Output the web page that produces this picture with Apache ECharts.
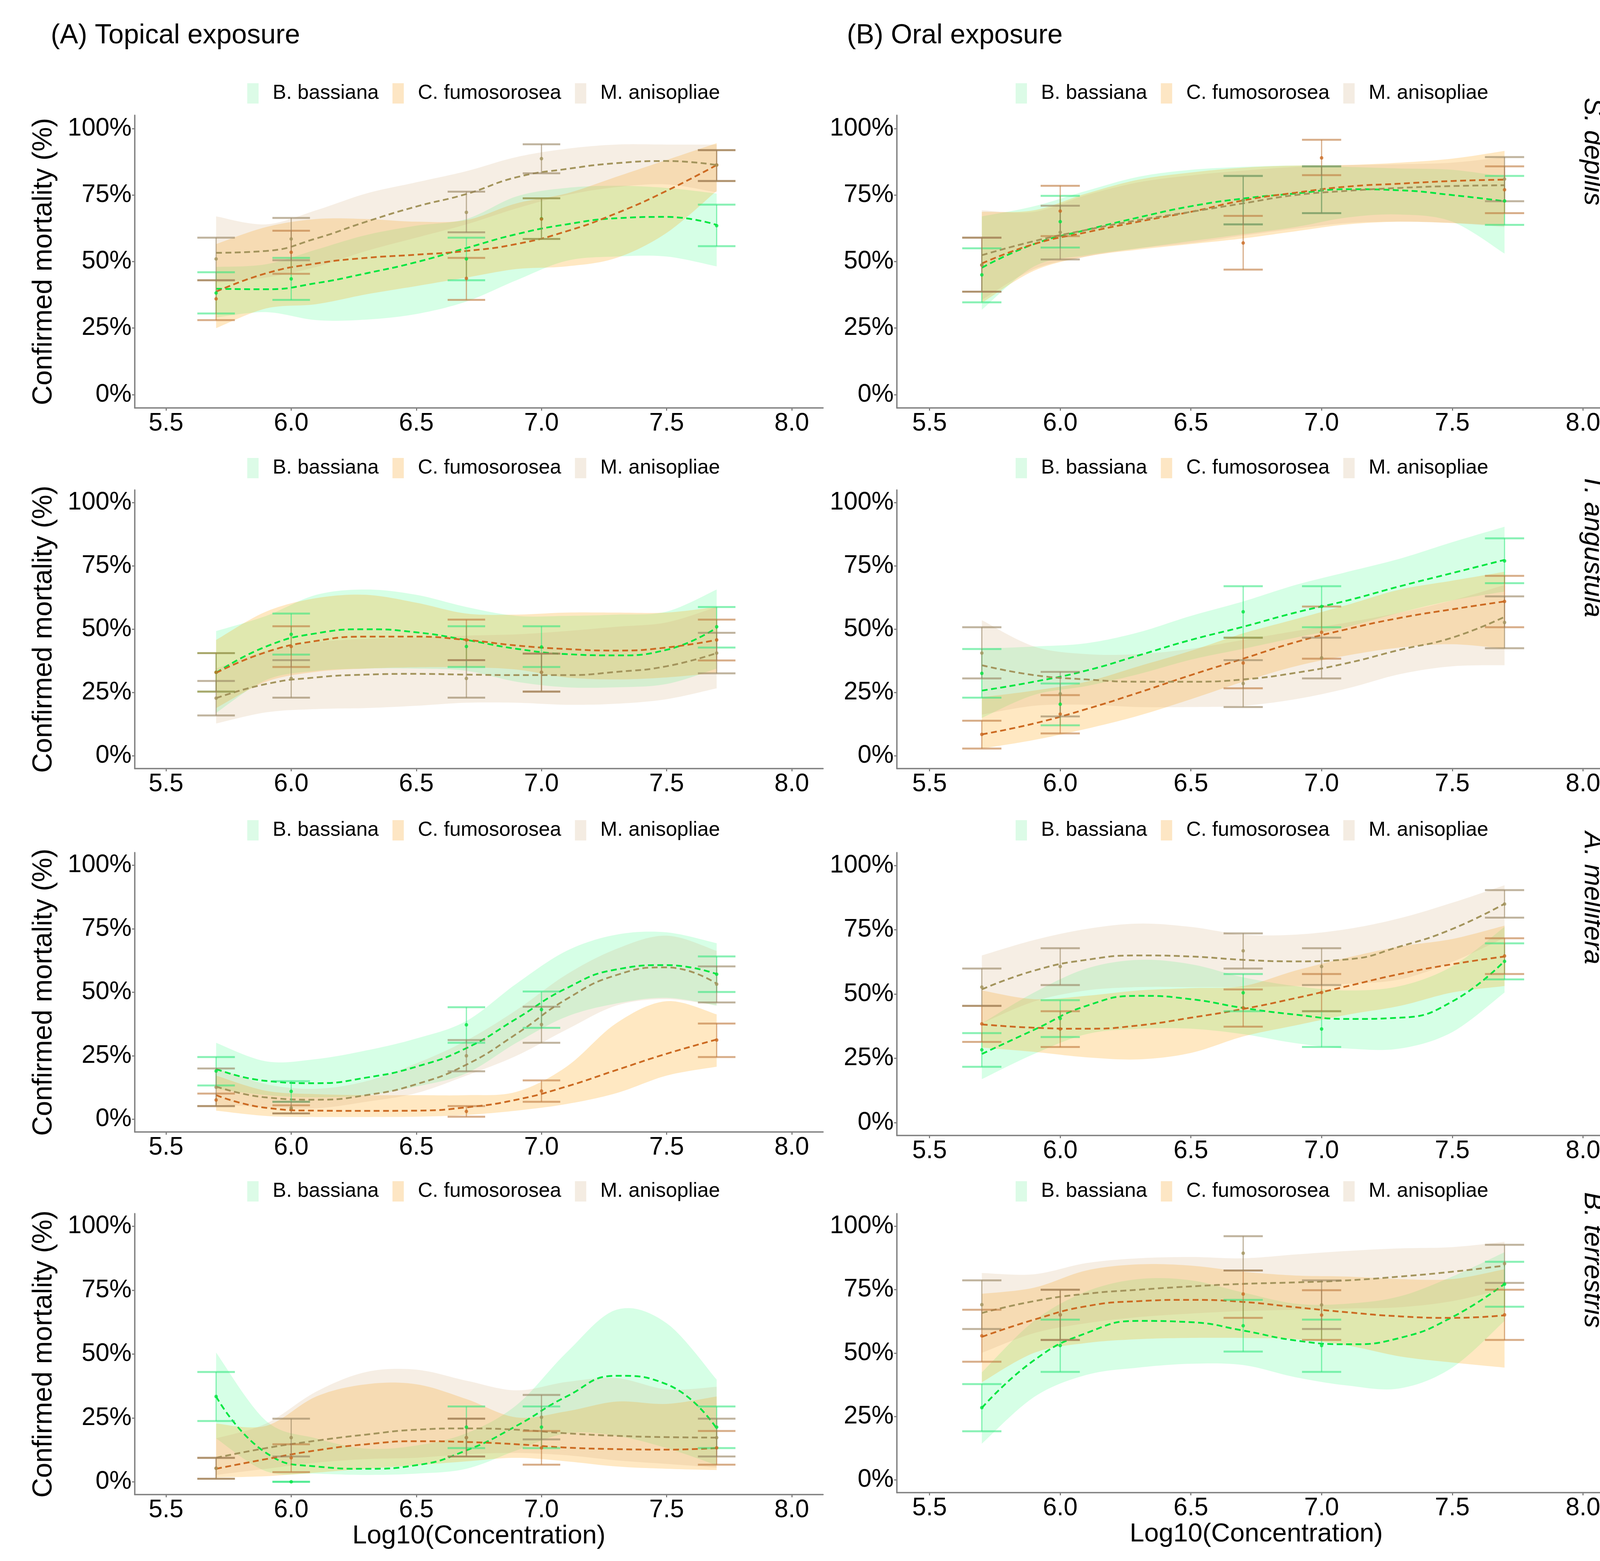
<!DOCTYPE html>
<html><head><meta charset="utf-8">
<script src="https://cdn.jsdelivr.net/npm/echarts@6/dist/echarts.min.js"></script>
<style>html,body{margin:0;padding:0;background:#fff}#c{width:4205px;height:3995px}</style>
</head><body><div id="c"></div>
<script>
// ---------- labels / categories ----------
const FUNGI = ['B. bassiana', 'C. fumosorosea', 'M. anisopliae'];
const SPECIES = ['S. depilis', 'T. angustula', 'A. mellifera', 'B. terrestris'];
const EXPOSURES = ['(A) Topical exposure', '(B) Oral exposure'];
const X_TITLE = 'Log10(Concentration)';
const Y_TITLE = 'Confirmed mortality (%)';
const X_OBS = [5.7, 6.0, 6.7, 7.0, 7.7];
const X_FIT = [5.7, 5.9, 6.1, 6.3, 6.5, 6.7, 6.9, 7.1, 7.3, 7.5, 7.7];
const X_TICKS = [5.5, 6.0, 6.5, 7.0, 7.5, 8.0];
const Y_TICKS = [0, 25, 50, 75, 100];

// ---------- data: rows = [B. bassiana, C. fumosorosea, M. anisopliae] ----------
// Topical, S. depilis
const TOP_SDEP_MEAN = [[38.2,43.5,51,66.1,63.5],[36,53.5,43.7,66,86.3],[51,58.5,68.5,88.7,86.3]];
const TOP_SDEP_LO   = [[30.5,35.6,43,58.5,55.8],[28,45.4,35.6,58.5,80.3],[43,50.5,61,83.2,80.3]];
const TOP_SDEP_HI   = [[46,51.4,59,73.8,71.4],[43,61.6,51.4,73.8,91.9],[59,66.4,76.3,94.1,91.9]];
const TOP_SDEP_FIT  = [[39.8,39.6,41.9,45.6,49.8,55.1,60.3,64,66.3,66.8,63.8],[38.7,45.6,49.3,51.4,52.6,54,56.6,61.4,68.2,76.6,86.3],[53.3,54,58.7,65,70.7,75.4,81.7,84.8,87,87.8,86.3]];
const TOP_SDEP_BLO  = [[29,31,28,28.2,30.3,35,43,50.3,51.9,51.9,48.2],[25,32.4,34,37.7,40.8,44,47.2,48.2,51.4,60.8,76.6],[42,44,48,54,59,64,70,75,78,79,76]];
const TOP_SDEP_BHI  = [[48,49,54.5,60,63.5,66,74.5,77.7,78.5,77.7,75.6],[56.6,63,66,66,65,65.6,71.9,75.6,81.9,88.2,94.5],[67,64,69.3,75.6,79.8,84,89.3,92.4,94,94,94]];
// Oral, S. depilis
const ORAL_SDEP_MEAN = [[45,65,73,77,72.8],[48.7,69,57,89,77],[48.7,61,73,77,81]];
const ORAL_SDEP_LO   = [[34.7,55.3,64,68.2,63.8],[38.7,59.6,47,82.5,68.2],[38.7,50.8,64,68.2,72.7]];
const ORAL_SDEP_HI   = [[55,74.7,82.2,85.8,82.2],[59,78.5,67.2,95.8,85.8],[59,71,82.2,85.8,89.3]];
const ORAL_SDEP_FIT  = [[47.7,56.6,61.9,66.6,70.8,73.7,75.6,77.2,76.8,75,72.7],[49.3,56.6,61,65,68.7,73,75.9,78.2,79.3,80.3,80.8],[52.4,57.7,61.9,65.6,68.7,71.9,75,76.6,77.7,78.4,78.7]];
const ORAL_SDEP_BLO  = [[31.9,48.2,52.4,55,57.7,60.3,63,66.6,67.7,65,53],[34.5,46.6,51.9,54.5,56.6,58.7,61.4,64,65,64.5,63.5],[35.6,47.2,51.9,55,57,59.8,62.4,64.5,65,64.5,63]];
const ORAL_SDEP_BHI  = [[67,70.8,76.6,81.9,84.5,85.6,86.1,85.6,85,84.5,81.9],[68.7,69.3,75.6,80.8,83.5,85.3,86.1,86.3,87.2,88.7,91.6],[69.3,68.7,75,79.8,82.4,84.2,85.6,86.3,86.6,87.2,89.3]];
// Topical, T. angustula
const TOP_TANG_MEAN = [[33,48,43.2,43,51],[33,43.2,45.8,33,45.8],[22.8,30.6,30.6,33,40.6]];
const TOP_TANG_LO   = [[25.4,40,35.1,35.1,42.8],[25.4,35.1,37.8,25.4,37.7],[16,23,23,25.4,32.6]];
const TOP_TANG_HI   = [[40.6,56.2,51.2,51.2,58.8],[40.6,51.2,53.8,40.4,53.8],[29.6,37.8,37.8,40.4,48.6]];
const TOP_TANG_FIT  = [[32.8,43.2,48.4,50,48.8,45.8,42.3,40.2,39.7,41.9,50.6],[32.8,41,45.4,47.1,47.1,45.8,43.6,42.2,41.6,42.8,45.8],[22.8,28.4,31,32.1,32.4,32.1,31.9,31.9,33.2,35.4,40.6]];
const TOP_TANG_BLO  = [[17,30,33.6,34.5,34.5,33.6,29.3,27.1,27.1,28.4,34.5],[18.9,29.3,33.2,34.5,35,35,34.1,31,30.2,31,32.8],[12.8,17.2,18.5,18.9,19.8,21,21,20.2,20.6,22.4,26.7]];
const TOP_TANG_BHI  = [[49.3,55.3,63.6,65.7,63.6,58.8,55.3,55.3,55.8,57,65.7],[45.8,57,62.3,63.6,60.5,56.2,55.8,56.6,56.6,56.6,58.8],[34.5,41.5,44.9,46.2,46.7,47.5,48,49.3,51,52.7,58.8]];
// Oral, T. angustula
const ORAL_TANG_MEAN = [[32.6,20.4,56.9,59,77],[8.5,16.5,36.7,48.8,61],[40.6,24.5,28.6,38.7,52.7]];
const ORAL_TANG_LO   = [[23,12.1,46.7,50.8,68.2],[2.9,8.9,26.7,38.4,50.8],[30.6,15.6,19.3,30.6,42.5]];
const ORAL_TANG_HI   = [[42.2,28.6,67,67,85.9],[13.9,24,46.7,59,71.1],[50.8,33.2,37.8,46.7,63]];
const ORAL_TANG_FIT  = [[25.8,29.3,33.7,39.7,45.8,51,56.6,61.4,67,72.2,77.4],[8.5,12.8,18.5,25,31.9,38.4,44.9,50.1,54.5,57.9,61],[35.8,31.9,30.2,29.3,29.3,30.2,32.8,36.7,41.9,46.7,54.9]];
const ORAL_TANG_BLO  = [[15,24.1,27.6,32.3,38,42.3,46.7,51,56.6,61.4,64.9],[2.9,6.3,10.7,15.9,22.4,29.3,35.4,39.7,42.8,44.1,42.3],[16.3,19.8,20.2,19.3,19.3,19.8,22.4,26.7,32.3,35.4,35.8]];
const ORAL_TANG_BHI  = [[42.3,43.2,44.5,48.8,55.3,61,67.5,72.7,77.9,84.4,90.5],[23.2,25.8,29.3,35.4,41.5,48.4,54,59.7,65.7,69.2,72.7],[53.6,43.2,40.2,40.2,42.3,45.8,49.3,52.7,56.6,61.4,67.5]];
// Topical, A. mellifera
const TOP_AMEL_MEAN = [[19,11,37.2,43.2,57.1],[7.6,3.9,3.1,11.1,31.2],[12.6,4.5,25,37.3,53.2]];
const TOP_AMEL_LO   = [[13.3,6.9,30.1,36,50.1],[5.2,2.3,1,6.9,24.5],[5.2,2.3,18.9,30.1,46]];
const TOP_AMEL_HI   = [[24.5,15,44.1,50.3,64.1],[10.1,5.5,5.2,15.3,37.7],[20,6.9,31.2,44.3,60.2]];
const TOP_AMEL_FIT  = [[19.8,15.1,14.2,16.4,20.7,28,39.6,51.6,59,60.7,57.2],[9.5,4.5,3.4,3.3,3.4,4.7,7.7,12.9,19.4,25.8,31.4],[12.9,8.6,7.7,9.5,13.8,21.5,33.6,47.3,56.8,59.8,53.4]];
const TOP_AMEL_BLO  = [[12,9.5,8.6,9.5,12.9,18.1,30.1,40.4,45.6,47.8,44.8],[3.4,1.3,0.9,0.9,1,1.7,3.4,6,10.3,17.2,20.7],[6,4.7,4.3,6.9,10.3,17.2,25,35.3,44.8,47.3,44.8]];
const TOP_AMEL_BHI  = [[30.1,22.8,23.7,27.1,31.8,38.7,53.4,66.3,72.7,73.6,69.3],[17.2,11.2,9.9,9.5,9.5,9.5,10.8,20.7,37.9,46.5,41.3],[20.2,13.8,12,15,22,31,43,57,67.1,72.3,66.3]];
// Oral, A. mellifera
const ORAL_AMEL_MEAN = [[28.3,40.5,50.5,36.4,62.7],[38.4,36.4,44.6,50.6,64.8],[52.7,60.7,66.8,60.7,85]];
const ORAL_AMEL_LO   = [[21.7,33.3,43.3,29.4,55.7],[31.4,29.4,37.3,43.3,57.8],[45.4,53.5,59.9,53.5,79.7]];
const ORAL_AMEL_HI   = [[34.8,47.6,57.8,43.3,69.7],[45.4,43.3,51.8,57.8,71.7],[59.9,67.8,73.6,67.8,90.4]];
const ORAL_AMEL_FIT  = [[26.7,36.1,45.4,49.3,48,44.6,42,40.3,40.8,47.1,62.9],[38.2,36.9,36.5,37.8,40.8,44.2,48.4,53.1,57.8,61.6,64.6],[51.8,59.1,63.3,65,64.6,63.3,62.7,63.5,68.5,75.3,85.1]];
const ORAL_AMEL_BLO  = [[16.9,26.7,34.4,36.5,36.5,34.4,30.9,28.8,28.8,35.2,50.6],[29.2,27.5,25.4,24.6,27.1,33.5,37.8,42,45.4,50.6,53.1],[38.6,47.1,51.4,52.7,52.7,52.7,53.1,54,55.7,62.5,71.9]];
const ORAL_AMEL_BHI  = [[38.6,50.6,59.9,63.3,61.6,56.5,53.1,51.4,53.1,60.8,76.1],[51.4,48,49.3,51.4,52.3,53.1,59.1,64.2,68.5,71.4,76.6],[65,71,75.3,77.4,76.1,73.1,73.1,75.3,79.5,85.5,92.3]];
// Topical, B. terrestris
const TOP_BTER_MEAN = [[33.4,0,21.4,21.4,21.4],[5.3,9.4,17.3,13.3,13.3],[5.3,17.3,17.3,25.3,17.3]];
const TOP_BTER_LO   = [[23.8,0,13.2,13.2,13.2],[1.2,3.8,9.9,6.7,6.7],[1.2,9.9,9.9,16.6,9.9]];
const TOP_BTER_HI   = [[43,0,29.5,29.5,29.5],[9.4,14.7,24.7,19.9,19.9],[9.4,24.7,24.7,34,24.7]];
const TOP_BTER_FIT  = [[33.4,11.3,6,5.1,6.5,12.3,21.9,33.4,41.5,38.2,20.9],[5.1,8.9,12.3,14.7,15.9,15.6,14.7,13.4,12.8,12.6,13.2],[9.4,13.2,16.1,18.5,20.4,20.9,20.4,19,18,17.5,17.3]];
const TOP_BTER_BLO  = [[17,4.1,3.2,2.7,3.2,5.1,12.3,19,18,13.2,6.5],[1.7,2.2,3.6,5.1,6.5,8,9.4,8,6,5.1,4.6],[2.7,5.1,7.5,8.9,9.4,10.8,11.3,10.4,8.4,7,5.6]];
const TOP_BTER_BHI  = [[50.6,23.8,17,13,14.2,19,30,50.6,67.4,62.1,40],[22.8,21.9,33.4,38.2,38.2,32.4,25.2,27.6,31.4,30.5,33.4],[17,22.8,35.3,43,43.9,39.6,35.8,39.1,40.6,36.2,37.2]];
// Oral, B. terrestris
const ORAL_BTER_MEAN = [[28.5,53,60.8,53,77.2],[56.8,65.1,73.3,65,65.1],[69.1,65.1,89.4,69,85.3]];
const ORAL_BTER_LO   = [[19.2,42.6,50.6,42.6,68.3],[46.6,55.2,63.9,55.2,55.2],[59.5,55.2,82.6,59.5,77.7]];
const ORAL_BTER_HI   = [[37.8,63.2,71,63.2,86],[67.1,75,82.6,74.8,75],[78.7,75,96.1,78.7,92.7]];
const ORAL_BTER_FIT  = [[28.4,47.2,57.9,62.7,62.2,58.9,55,53.5,56,64.2,77.3],[56.4,63.2,68.5,70.5,71,70.2,68.1,66.1,64.5,63.9,64.9],[65.8,70.5,73.4,75,76.3,77.3,77.9,78.7,80.2,82.1,84.5]];
const ORAL_BTER_BLO  = [[14.3,32.7,41.4,44.3,45.8,45.3,40.5,37.2,36.1,44.3,62.7],[38.5,50.1,54,55.5,56,56,55.5,53,48.7,46.3,44.3],[50.1,57.9,61.8,64.2,65.6,66.6,67.1,67.6,68.1,70.5,75.3]];
const ORAL_BTER_BHI  = [[42.4,62.7,74.3,79.2,78.7,73.9,69.5,69.5,72.4,80.2,89.8],[73.4,75.8,82.6,85,84.5,82.1,80.6,80.2,79.2,79.2,83.1],[81.6,81.1,85.5,87.4,87.9,87.4,88.9,90.3,91.3,91.8,93.9]];

// panels in reading order (row by row, left = topical, right = oral)
const PANELS = [
  [TOP_SDEP_MEAN, TOP_SDEP_LO, TOP_SDEP_HI, TOP_SDEP_FIT, TOP_SDEP_BLO, TOP_SDEP_BHI],
  [ORAL_SDEP_MEAN, ORAL_SDEP_LO, ORAL_SDEP_HI, ORAL_SDEP_FIT, ORAL_SDEP_BLO, ORAL_SDEP_BHI],
  [TOP_TANG_MEAN, TOP_TANG_LO, TOP_TANG_HI, TOP_TANG_FIT, TOP_TANG_BLO, TOP_TANG_BHI],
  [ORAL_TANG_MEAN, ORAL_TANG_LO, ORAL_TANG_HI, ORAL_TANG_FIT, ORAL_TANG_BLO, ORAL_TANG_BHI],
  [TOP_AMEL_MEAN, TOP_AMEL_LO, TOP_AMEL_HI, TOP_AMEL_FIT, TOP_AMEL_BLO, TOP_AMEL_BHI],
  [ORAL_AMEL_MEAN, ORAL_AMEL_LO, ORAL_AMEL_HI, ORAL_AMEL_FIT, ORAL_AMEL_BLO, ORAL_AMEL_BHI],
  [TOP_BTER_MEAN, TOP_BTER_LO, TOP_BTER_HI, TOP_BTER_FIT, TOP_BTER_BLO, TOP_BTER_BHI],
  [ORAL_BTER_MEAN, ORAL_BTER_LO, ORAL_BTER_HI, ORAL_BTER_FIT, ORAL_BTER_BLO, ORAL_BTER_BHI]
];

// ---------- styles / layout ----------
const FONT = "'Liberation Sans', Arial, Helvetica, sans-serif";
const LINE_COLORS = ['#00E640', '#CC6A22', '#A3945C'];
const BAND_COLORS = ['rgba(0,255,100,0.16)', 'rgba(255,165,10,0.25)', 'rgba(210,170,120,0.2)'];
const ERR_COLORS = ['rgba(40,230,120,0.55)', 'rgba(190,120,60,0.6)', 'rgba(150,130,95,0.6)'];
const LEGEND_FILL = ['#DCFBE7', '#FDE6C4', '#F4ECE2'];
const AXIS_COLOR = '#808080';
const COL_LEFT = [345, 2296];
const COL_WIDTH = [1762, 1840];
const ROW_TOP = [[295, 295], [1254, 1254], [2182, 2182], [3106, 3106]];
const ROW_BOTTOM = [[1044, 1044], [1967, 1967], [2897, 2906], [3825, 3820]];
const LEGEND_CY = [239, 1198, 2125, 3049];
const LEGEND_LEFT = [633, 2600];
const STRIP_TOP = [250, 1212, 2128, 3051];
const STRIP_X = 4076;
const TITLE_X = [130, 2168];
const CAP = 0.075;

// Catmull-Rom smoothing of pixel points (rendering only)
function smoothPixels(pts, seg) {
  const out = [], n = pts.length;
  for (let i = 0; i < n - 1; i++) {
    const p0 = pts[Math.max(i - 1, 0)], p1 = pts[i], p2 = pts[i + 1], p3 = pts[Math.min(i + 2, n - 1)];
    for (let s = 0; s < seg; s++) {
      const t = s / seg, t2 = t * t, t3 = t2 * t;
      const f = (a, b, c, d) => 0.5 * (2 * b + (-a + c) * t + (2 * a - 5 * b + 4 * c - d) * t2 + (-a + 3 * b - 3 * c + d) * t3);
      out.push([f(p0[0], p1[0], p2[0], p3[0]), f(p0[1], p1[1], p2[1], p3[1])]);
    }
  }
  out.push(pts[n - 1]);
  return out;
}

const option = {
  animation: false, backgroundColor: '#ffffff',
  grid: [], xAxis: [], yAxis: [], series: [], legend: [], graphic: []
};

PANELS.forEach((p, k) => {
  const r = Math.floor(k / 2), c = k % 2;
  const [mean, lo, hi, fit, blo, bhi] = p;
  const top = ROW_TOP[r][c], bottom = ROW_BOTTOM[r][c];
  option.grid.push({ left: COL_LEFT[c], width: COL_WIDTH[c], top: top, height: bottom - top, containLabel: false, outerBoundsMode: 'none' });
  option.xAxis.push({
    gridIndex: k, type: 'value', min: 5.375, max: 8.125,
    axisLine: { show: true, onZero: false, lineStyle: { color: AXIS_COLOR, width: 3.5 } },
    axisTick: { show: true, customValues: X_TICKS, length: 7, lineStyle: { color: AXIS_COLOR, width: 3 } },
    axisLabel: { show: true, customValues: X_TICKS, formatter: v => Number(v).toFixed(1), fontSize: 64, color: '#000', fontFamily: FONT, margin: 8 },
    splitLine: { show: false },
    name: r === 3 ? X_TITLE : '', nameLocation: 'middle', nameGap: 60,
    nameTextStyle: { fontSize: 67, color: '#000', fontFamily: FONT }
  });
  option.yAxis.push({
    gridIndex: k, type: 'value', min: -5, max: 105,
    axisLine: { show: true, onZero: false, lineStyle: { color: AXIS_COLOR, width: 3.5 } },
    axisTick: { show: true, customValues: Y_TICKS, length: 7, lineStyle: { color: AXIS_COLOR, width: 3 } },
    axisLabel: { show: true, customValues: Y_TICKS, formatter: v => v + '%', fontSize: 64, color: '#000', fontFamily: FONT, margin: 8 },
    splitLine: { show: false },
    name: c === 0 ? Y_TITLE : '', nameLocation: 'middle', nameGap: 197, nameRotate: 90,
    nameTextStyle: { fontSize: 70, color: '#000', fontFamily: FONT }
  });
  option.legend.push({
    left: LEGEND_LEFT[c], top: LEGEND_CY[r] - 26, orient: 'horizontal', padding: 0,
    itemWidth: 29, itemHeight: 52, itemGap: 35, selectedMode: false,
    textStyle: { fontSize: 52, color: '#000', fontFamily: FONT, padding: [0, 0, 0, 31] },
    data: FUNGI.map((n, f) => ({ name: n, icon: 'rect', itemStyle: { color: LEGEND_FILL[f], borderWidth: 0 } }))
  });
  FUNGI.forEach((name, f) => {
    // confidence band (ribbon between lower and upper)
    option.series.push({
      type: 'custom', name: name, xAxisIndex: k, yAxisIndex: k, z: 1, silent: true,
      encode: { x: 0, y: [1, 2] },
      data: X_FIT.map((x, i) => [x, blo[f][i], bhi[f][i]]),
      renderItem: (params, api) => {
        if (params.dataIndexInside !== 0) return null;
        const n = params.dataInsideLength;
        const up = [], dn = [];
        for (let i = 0; i < n; i++) {
          up.push(api.coord([api.value(0, i), api.value(2, i)]));
          dn.push(api.coord([api.value(0, i), api.value(1, i)]));
        }
        const pts = smoothPixels(up, 12).concat(smoothPixels(dn, 12).reverse());
        return { type: 'polygon', shape: { points: pts }, style: { fill: BAND_COLORS[f], stroke: null } };
      }
    });
    // fitted dashed curve
    option.series.push({
      type: 'line', name: name, xAxisIndex: k, yAxisIndex: k, smooth: true,
      symbol: 'none', silent: true, z: 3,
      lineStyle: { color: LINE_COLORS[f], width: 4.5, type: [15, 9] },
      data: X_FIT.map((x, i) => [x, fit[f][i]])
    });
    // error bars
    option.series.push({
      type: 'custom', name: name, xAxisIndex: k, yAxisIndex: k, z: 4, silent: true,
      encode: { x: 0, y: [1, 2] },
      data: X_OBS.map((x, i) => [x, lo[f][i], hi[f][i]]),
      renderItem: (params, api) => {
        const x = api.value(0), l = api.value(1), h = api.value(2);
        const pl = api.coord([x, l]), ph = api.coord([x, h]);
        const xl = api.coord([x - CAP, l])[0], xr = api.coord([x + CAP, l])[0];
        const col = ERR_COLORS[f];
        return { type: 'group', children: [
          { type: 'line', shape: { x1: pl[0], y1: pl[1], x2: ph[0], y2: ph[1] }, style: { stroke: col, lineWidth: 3 } },
          { type: 'line', shape: { x1: xl, y1: pl[1], x2: xr, y2: pl[1] }, style: { stroke: col, lineWidth: 5 } },
          { type: 'line', shape: { x1: xl, y1: ph[1], x2: xr, y2: ph[1] }, style: { stroke: col, lineWidth: 5 } }
        ] };
      }
    });
    // observed means
    option.series.push({
      type: 'scatter', name: name, xAxisIndex: k, yAxisIndex: k, z: 5, silent: true,
      symbolSize: 9, itemStyle: { color: LINE_COLORS[f] },
      data: X_OBS.map((x, i) => [x, mean[f][i]])
    });
  });
});

EXPOSURES.forEach((t, c) => {
  option.graphic.push({ type: 'text', x: TITLE_X[c], y: 92, silent: true,
    style: { text: t, fontSize: 70, fontFamily: FONT, fill: '#000', align: 'left', verticalAlign: 'middle' } });
});
SPECIES.forEach((s, r) => {
  option.graphic.push({ type: 'text', x: STRIP_X, y: STRIP_TOP[r], rotation: -Math.PI / 2, silent: true,
    style: { text: s, fontSize: 68, fontStyle: 'italic', fontFamily: FONT, fill: '#000', align: 'left', verticalAlign: 'middle' } });
});

const chart = echarts.init(document.getElementById('c'), null, { renderer: 'canvas', width: 4205, height: 3995 });
chart.setOption(option);
</script>
</body></html>
